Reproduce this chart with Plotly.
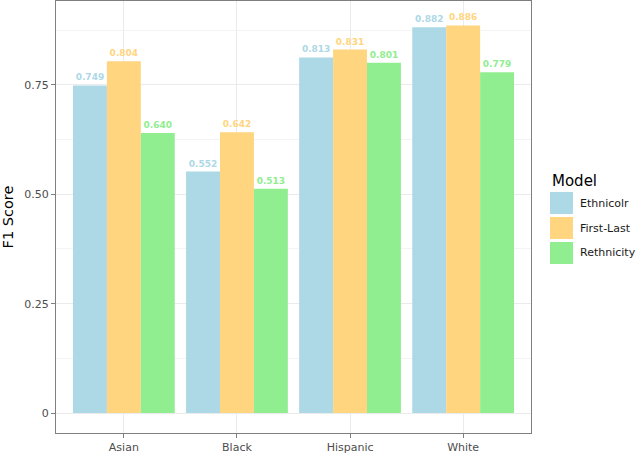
import plotly.graph_objects as go

groups = ["Asian", "Black", "Hispanic", "White"]
models = ["Ethnicolr", "First-Last", "Rethnicity"]
ethnicolr = [0.749, 0.552, 0.813, 0.882]
first_last = [0.804, 0.642, 0.831, 0.886]
rethnicity = [0.640, 0.513, 0.801, 0.779]

colors = {"Ethnicolr": "#ADD8E6", "First-Last": "#FFD580", "Rethnicity": "#90EE90"}
series = {"Ethnicolr": ethnicolr, "First-Last": first_last, "Rethnicity": rethnicity}

W, H = 640, 453
ML, MR, MT, MB = 56, 109, 1, 20
pw, ph = W - ML - MR, H - MT - MB


def px_x(x):
    return (x - ML) / pw


def px_y(y):
    return (H - MB - y) / ph


fig = go.Figure()
for m in models:
    vals = series[m]
    fig.add_trace(go.Bar(
        x=groups,
        y=vals,
        name=m,
        marker=dict(color=colors[m], line=dict(width=0)),
        text=[f"{v:.3f}" for v in vals],
        textposition="outside",
        cliponaxis=False,
        textfont=dict(family="DejaVu Sans", size=9, color=colors[m], weight="bold"),
        showlegend=False,
    ))

# hand-drawn legend (ggplot style keys)
fig.add_annotation(
    x=px_x(550), y=px_y(181), xref="paper", yref="paper",
    text="Model", showarrow=False, xanchor="left", yanchor="middle",
    font=dict(size=15, color="black"),
)
for i, m in enumerate(models):
    top = 192 + i * 25
    fig.add_shape(
        type="rect", xref="paper", yref="paper",
        x0=px_x(550), x1=px_x(573), y0=px_y(top), y1=px_y(top + 22),
        fillcolor=colors[m], line=dict(width=0),
    )
    fig.add_annotation(
        x=px_x(578), y=px_y(top + 11), xref="paper", yref="paper",
        text=m, showarrow=False, xanchor="left", yanchor="middle",
        font=dict(size=11, color="#1a1a1a"),
    )

fig.update_layout(
    barmode="group",
    bargap=0.1,
    bargroupgap=0,
    width=W,
    height=H,
    margin=dict(l=ML, r=MR, t=MT, b=MB),
    plot_bgcolor="white",
    paper_bgcolor="white",
    font=dict(family="DejaVu Sans", color="#4d4d4d", size=11),
    uniformtext=dict(minsize=9, mode="show"),
)
fig.update_xaxes(
    range=[-0.6, 3.6],
    automargin=False,
    showgrid=True, gridcolor="#ebebeb", gridwidth=1,
    showline=True, linecolor="#7f7f7f", linewidth=1.3, mirror=True,
    ticks="outside", ticklen=4, tickcolor="#7f7f7f",
    tickfont=dict(size=11, color="#4d4d4d"),
)
fig.update_yaxes(
    range=[-0.0457, 0.942],
    automargin=False,
    tickvals=[0, 0.25, 0.5, 0.75],
    ticktext=["0", "0.25", "0.50", "0.75"],
    showgrid=True, gridcolor="#ebebeb", gridwidth=1,
    minor=dict(tickvals=[0.125, 0.375, 0.625, 0.875], showgrid=True, gridcolor="#f4f4f4", gridwidth=0.6, ticks=""),
    zeroline=False,
    showline=True, linecolor="#7f7f7f", linewidth=1.3, mirror=True,
    ticks="outside", ticklen=4, tickcolor="#7f7f7f",
    tickfont=dict(size=11, color="#4d4d4d"),
    title=dict(text="F1 Score", font=dict(size=14.5, color="black")),
)

# page body has a default 8px margin; drop it so the figure sits at 0,0
fig.write_html(
    "out.html",
    config={"displayModeBar": False},
    post_script="document.body.style.margin='0';",
)
